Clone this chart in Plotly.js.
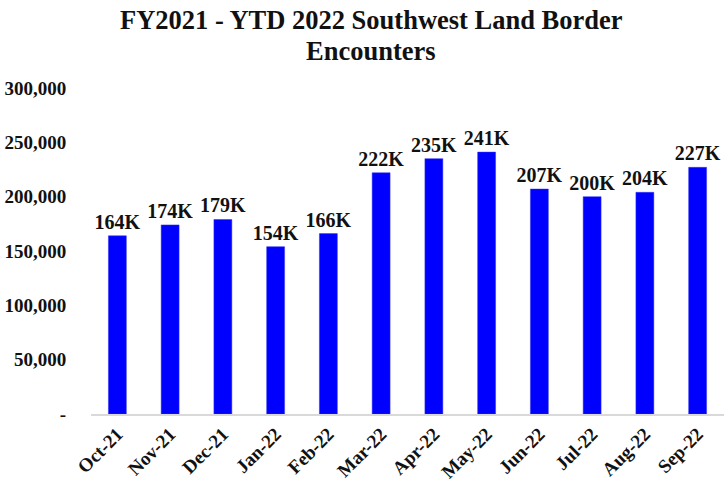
<!DOCTYPE html>
<html>
<head>
<meta charset="utf-8">
<script src="https://cdn.plot.ly/plotly-3.0.1.min.js"></script>
<style>html,body{margin:0;padding:0;background:#fff;}#chart{width:724px;height:484px;}</style>
</head>
<body>
<div id="chart"></div>
<script>
const months = ["Oct-21","Nov-21","Dec-21","Jan-22","Feb-22","Mar-22","Apr-22","May-22","Jun-22","Jul-22","Aug-22","Sep-22"];
const encounters = [164000,174000,179000,154000,166000,222000,235000,241000,207000,200000,204000,227000];
const barLabels = ["164K","174K","179K","154K","166K","222K","235K","241K","207K","200K","204K","227K"];
const yTickVals = [0,50000,100000,150000,200000,250000,300000];
const yTickText = ["-","50,000","100,000","150,000","200,000","250,000","300,000"];
const titleLines = ["FY2021 - YTD 2022 Southwest Land Border", "Encounters"];

const serif = "Liberation Serif, Times New Roman, serif";
const trace = {
  type: "bar",
  x: months,
  y: encounters,
  text: barLabels,
  textposition: "outside",
  constraintext: "none",
  cliponaxis: false,
  textfont: {family: serif, size: 20, color: "#111", weight: "bold"},
  marker: {color: "#0000FF", line: {color: "#3333ee", width: 0.5}},
  hoverinfo: "skip"
};
const plotTop = 88, plotH = 326;
const pyToPaper = py => 1 + (plotTop - py) / plotH;
const titleCenters = [20, 51];
const layout = {
  width: 724, height: 484,
  margin: {l: 91, r: 0, t: 88, b: 70},
  paper_bgcolor: "#fff", plot_bgcolor: "#fff",
  bargap: 0.66,
  showlegend: false,
  annotations: titleLines.map((t, i) => ({
    text: t,
    font: {family: serif, size: 26.5, color: "#111", weight: "bold"},
    xref: "paper", x: (371 - 91) / 633, xanchor: "center",
    yref: "paper", y: pyToPaper(titleCenters[i]), yanchor: "middle",
    showarrow: false, align: "center"
  })),
  xaxis: {
    type: "category",
    tickangle: -45,
    tickfont: {family: serif, size: 19, color: "#111", weight: "bold"},
    showline: true, linecolor: "#d9d9d9", linewidth: 1.5,
    showgrid: false, ticks: "", zeroline: false,
    fixedrange: true
  },
  yaxis: {
    range: [0, 300000],
    tickvals: yTickVals,
    ticktext: yTickText,
    tickfont: {family: serif, size: 19, color: "#111", weight: "bold"},
    showgrid: false, zeroline: false, showline: false,
    ticks: "outside", ticklen: 20, tickcolor: "rgba(0,0,0,0)",
    fixedrange: true
  }
};
Plotly.newPlot("chart", [trace], layout, {displayModeBar: false, staticPlot: true});
</script>
</body>
</html>
